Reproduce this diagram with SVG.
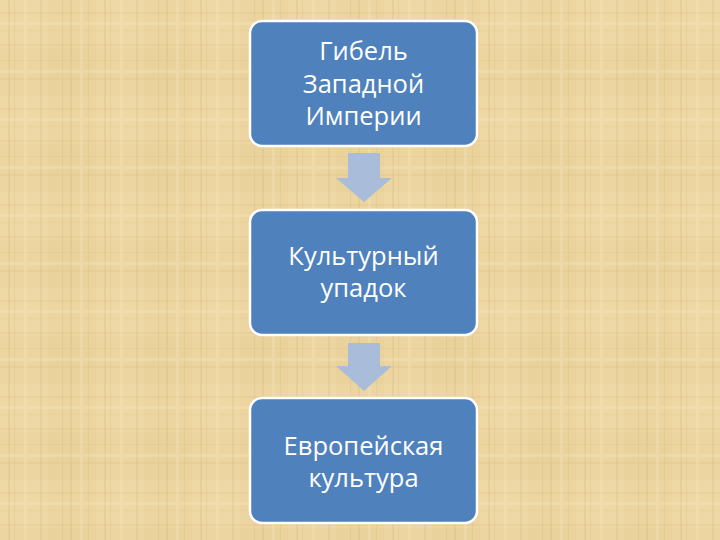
<svg xmlns="http://www.w3.org/2000/svg" width="720" height="540" viewBox="0 0 720 540">
<style>
.box{fill:#4f81bd;stroke:#ffffff;stroke-width:2.5}
.lbl{font-family:"Open Sans","Liberation Sans",sans-serif;font-size:25.5px;fill:#ffffff;text-anchor:middle}
.arr{fill:#a9bddb}
</style>
<defs>
<pattern id="weave" width="96" height="96" patternUnits="userSpaceOnUse">
<rect width="96" height="96" fill="#ecd5a0"/>
<rect x="0" y="0" width="48" height="48" fill="#eed8a5"/>
<rect x="48" y="48" width="48" height="48" fill="#e9d29c"/>
<g fill="#d8bb80" opacity="0.35">
<rect x="8" y="0" width="2" height="96"/>
<rect x="14" y="0" width="1" height="96"/>
<rect x="40" y="0" width="2" height="96"/>
<rect x="62" y="0" width="1" height="96"/>
<rect x="70" y="0" width="2" height="96"/>
<rect x="88" y="0" width="1" height="96"/>
</g>
<g fill="#d9bb80" opacity="0.22">
<rect x="0" y="12" width="96" height="2"/>
<rect x="0" y="30" width="96" height="1"/>
<rect x="0" y="44" width="96" height="2"/>
<rect x="0" y="60" width="96" height="1"/>
<rect x="0" y="78" width="96" height="2"/>
</g>
<g fill="#f6e6bf" opacity="0.3">
<rect x="24" y="0" width="3" height="96"/>
<rect x="80" y="0" width="3" height="96"/>
<rect x="0" y="22" width="96" height="3"/>
<rect x="0" y="70" width="96" height="3"/>
</g>
</pattern>
</defs>
<rect width="720" height="540" fill="url(#weave)"/>
<g id="connectors">
<path class="arr" d="M348,153 H380 V178 H392 L364,202 L336,178 H348 Z"/>
<path class="arr" d="M348,343 H380 V366 H392 L364,391 L336,366 H348 Z"/>
</g>
<g id="node1">
<rect class="box" x="250" y="21" width="227" height="125" rx="12"/>
<text class="lbl" x="363.5" y="60">Гибель</text>
<text class="lbl" x="363.5" y="93">Западной</text>
<text class="lbl" x="363.5" y="125">Империи</text>
</g>
<g id="node2">
<rect class="box" x="250" y="210" width="227" height="125" rx="12"/>
<text class="lbl" x="363.5" y="265">Культурный</text>
<text class="lbl" x="363.5" y="297">упадок</text>
</g>
<g id="node3">
<rect class="box" x="250" y="398" width="227" height="125" rx="12"/>
<text class="lbl" x="363.5" y="455">Европейская</text>
<text class="lbl" x="363.5" y="487">культура</text>
</g>
</svg>
